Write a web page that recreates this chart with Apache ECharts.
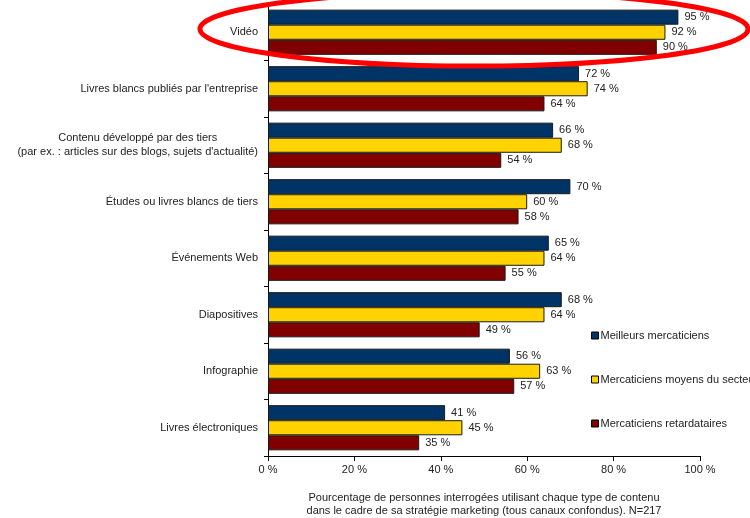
<!DOCTYPE html>
<html>
<head>
<meta charset="utf-8">
<script src="https://cdn.jsdelivr.net/npm/echarts@6/dist/echarts.min.js"></script>
<style>html,body{margin:0;padding:0;background:#fff}#c{width:750px;height:518px}</style>
</head>
<body>
<div id="c"></div>
<script>
const categories = [
  "Vidéo",
  "Livres blancs publiés par l'entreprise",
  "Contenu développé par des tiers\n(par ex. : articles sur des blogs, sujets d'actualité)",
  "Études ou livres blancs de tiers",
  "Événements Web",
  "Diapositives",
  "Infographie",
  "Livres électroniques"
];
const seriesNames = ["Meilleurs mercaticiens", "Mercaticiens moyens du secteur", "Mercaticiens retardataires"];
const meilleurs = [95, 72, 66, 70, 65, 68, 56, 41];
const moyens = [92, 74, 68, 60, 64, 64, 63, 45];
const retardataires = [90, 64, 54, 58, 55, 49, 57, 35];
const xTicks = [0, 20, 40, 60, 80, 100];
const axisTitle = "Pourcentage de personnes interrogées utilisant chaque type de contenu\ndans le cadre de sa stratégie marketing (tous canaux confondus). N=217";

const colors = ["#003366", "#FFD200", "#800000"];
const font = "'Liberation Sans', Arial, sans-serif";
const chart = echarts.init(document.getElementById('c'), null, {renderer: 'canvas'});

function mkSeries(name, data, color) {
  return {
    name: name, type: 'bar', data: data,
    barGap: '0%', barCategoryGap: '20%',
    itemStyle: {color: color, borderColor: '#1a1a1a', borderWidth: 1},
    label: {show: true, position: 'right', distance: 6, formatter: '{c} %',
            color: '#222', fontSize: 11, fontFamily: font},
    emphasis: {disabled: true},
    animation: false
  };
}

chart.setOption({
  animation: false,
  backgroundColor: '#fff',
  textStyle: {fontFamily: font},
  grid: {left: 268, right: 50, top: 4, bottom: 62, containLabel: false, outerBoundsMode: 'none'},
  xAxis: {
    type: 'value', min: xTicks[0], max: xTicks[xTicks.length - 1], interval: 20,
    axisLine: {show: true, lineStyle: {color: '#000', width: 1}},
    axisTick: {show: true, length: 5, lineStyle: {color: '#000'}},
    splitLine: {show: false},
    axisLabel: {formatter: '{value} %', color: '#222', fontSize: 11, margin: 8, fontFamily: font},
    name: axisTitle, nameLocation: 'middle', nameGap: 35,
    nameTextStyle: {color: '#222', fontSize: 11, lineHeight: 13, fontFamily: font, align: 'center'}
  },
  yAxis: {
    type: 'category', data: categories, inverse: true,
    axisLine: {show: true, lineStyle: {color: '#000', width: 1}},
    axisTick: {show: true, length: 4, lineStyle: {color: '#000'}},
    axisLabel: {
      color: '#222', fontSize: 11, margin: 10, fontFamily: font,
      formatter: function (v) { return v.split('\n').map(s => '{c|' + s + '}').join('\n'); },
      rich: {c: {align: 'center', fontSize: 11, color: '#222', fontFamily: font, lineHeight: 14}}
    }
  },
  legend: {
    orient: 'vertical', left: 586, top: 325, itemGap: 33,
    itemWidth: 7, itemHeight: 7,
    textStyle: {color: '#222', fontSize: 11, fontFamily: font, padding: [0, 0, 0, -3]},
    itemStyle: {borderColor: '#000', borderWidth: 1},
    data: seriesNames.map(n => ({name: n, icon: 'rect'}))
  },
  series: [
    mkSeries(seriesNames[0], meilleurs, colors[0]),
    mkSeries(seriesNames[1], moyens, colors[1]),
    mkSeries(seriesNames[2], retardataires, colors[2])
  ],
  graphic: [{
    type: 'ellipse', silent: true, z: 100,
    shape: {cx: 474, cy: 29, rx: 274, ry: 37},
    style: {fill: 'none', stroke: '#ff0000', lineWidth: 5}
  }]
});
</script>
</body>
</html>
